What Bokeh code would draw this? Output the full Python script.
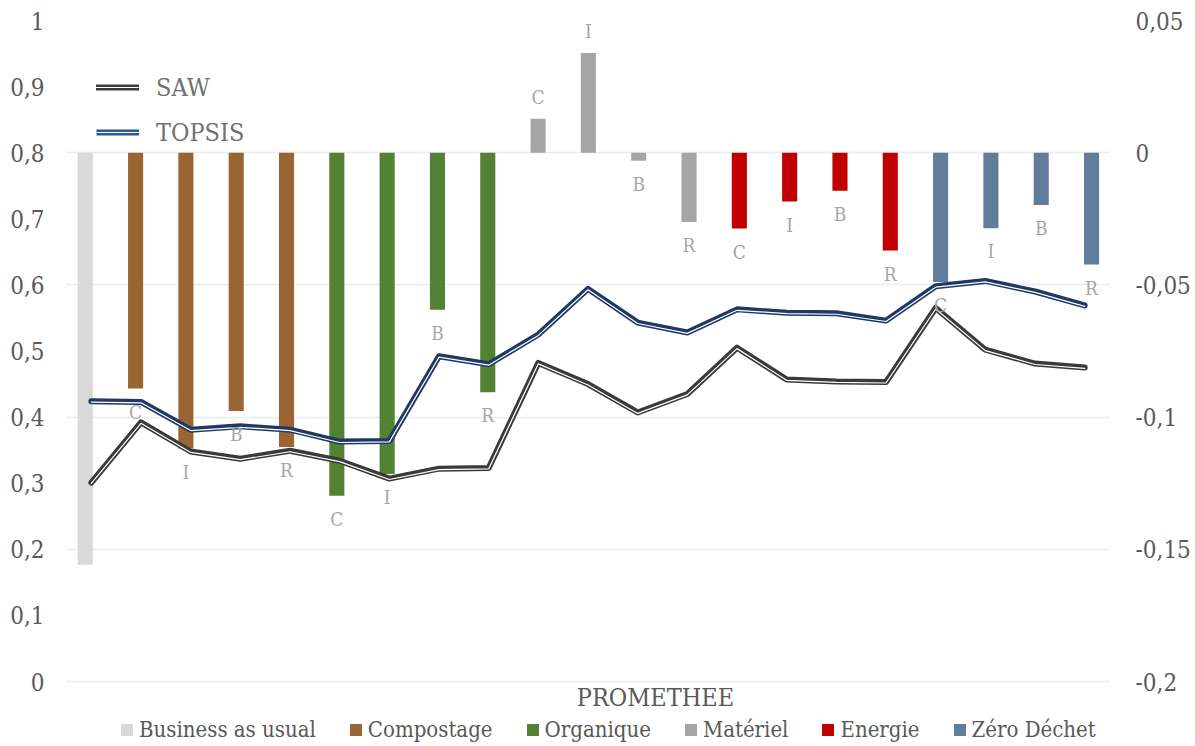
import numpy as np
from bokeh.plotting import figure
from bokeh.models import (Range1d, LinearAxis, FixedTicker, ColumnDataSource,
                          Legend, LegendItem, LabelSet, Label, Grid)
from bokeh.core.properties import value
from bokeh.embed import file_html
from bokeh.resources import INLINE

# ---------------- data ----------------
groups = ["Business as usual", "Compostage", "Organique", "Matériel", "Energie", "Zéro Déchet"]
group_colors = ["#d9d9d9", "#996633", "#548235", "#a5a5a5", "#c00000", "#627c9c"]
scenario_group = [0, 1, 1, 1, 1, 2, 2, 2, 2, 3, 3, 3, 3, 4, 4, 4, 4, 5, 5, 5, 5]
scenario_letter = ["", "C", "I", "B", "R", "C", "I", "B", "R", "C", "I", "B", "R",
                   "C", "I", "B", "R", "C", "I", "B", "R"]
promethee = [-0.1558, -0.0892, -0.1119, -0.0977, -0.1113, -0.1297, -0.1215, -0.0594, -0.0906,
             0.0128, 0.0377, -0.0030, -0.0262, -0.0287, -0.0185, -0.0144, -0.0370,
             -0.0489, -0.0286, -0.0198, -0.0423]
saw = [0.301, 0.392, 0.348, 0.337, 0.349, 0.334, 0.307, 0.322, 0.323, 0.482, 0.450, 0.407,
       0.435, 0.505, 0.457, 0.454, 0.453, 0.565, 0.502, 0.481, 0.475]
topsis = [0.424, 0.423, 0.381, 0.386, 0.381, 0.363, 0.364, 0.492, 0.480, 0.525, 0.594, 0.543,
          0.528, 0.563, 0.558, 0.557, 0.546, 0.598, 0.606, 0.590, 0.569]
left_ticks = [0, 0.1, 0.2, 0.3, 0.4, 0.5, 0.6, 0.7, 0.8, 0.9, 1]
left_tick_labels = ["0", "0,1", "0,2", "0,3", "0,4", "0,5", "0,6", "0,7", "0,8", "0,9", "1"]
right_ticks = [-0.2, -0.15, -0.1, -0.05, 0, 0.05]
right_tick_labels = ["-0,2", "-0,15", "-0,1", "-0,05", "0", "0,05"]
x_title = "PROMETHEE"

FONT = "'DejaVu Serif Condensed', 'DejaVu Serif', serif"
TXT = "#595959"

# ---------------- layout (pixels) ----------------
W, H = 1193, 742
B_LEFT, B_RIGHT, B_TOP = 66, 83, 20
PX_PER_UNIT = 661.0            # left axis: 0..1 spans 661 px
EXTRA = 61.0                    # room below the 0 line (legend / title) inside the frame
left_start = -EXTRA / PX_PER_UNIT
right_start = -0.2 + 0.25 * left_start

idx = list(range(len(promethee)))

p = figure(width=W, height=H, x_range=Range1d(-0.5, 20.5), y_range=Range1d(left_start, 1),
           output_backend="svg", toolbar_location=None, x_axis_location=None,
           min_border_left=B_LEFT, min_border_right=B_RIGHT, min_border_top=B_TOP,
           min_border_bottom=0)
p.outline_line_color = None
p.background_fill_color = "white"
p.extra_x_ranges = {"bars": Range1d(-0.373, 20.357)}
p.extra_y_ranges = {"right": Range1d(right_start, 0.05)}

# axes
ya = p.yaxis[0]
ya.ticker = FixedTicker(ticks=left_ticks)
ya.major_label_overrides = {t: l for t, l in zip(left_ticks, left_tick_labels)}
right_axis = LinearAxis(y_range_name="right", ticker=FixedTicker(ticks=right_ticks),
                        major_label_overrides={t: l for t, l in zip(right_ticks, right_tick_labels)})
p.add_layout(right_axis, "right")
for ax in (ya, right_axis):
    ax.axis_line_color = None
    ax.major_tick_line_color = None
    ax.minor_tick_line_color = None
    ax.major_tick_in = 0
    ax.major_tick_out = 0
    ax.major_label_text_font = FONT
    ax.major_label_text_font_size = "24px"
    ax.major_label_text_color = TXT
ya.major_label_standoff = 22
right_axis.major_label_standoff = 26

p.xgrid.visible = False
p.ygrid.visible = False
p.add_layout(Grid(dimension=1, ticker=right_axis.ticker, y_range_name="right",
                  grid_line_color="#ececec", grid_line_width=1.5))

# bars
src = ColumnDataSource(dict(
    x=idx, top=promethee,
    color=[group_colors[g] for g in scenario_group],
    letter=scenario_letter,
    yoff=[22 if v > 0 else -23 for v in promethee],
))
bars = p.vbar(x="x", top="top", bottom=0, width=0.3, fill_color="color", line_color=None,
              source=src, x_range_name="bars", y_range_name="right")

labels = LabelSet(x="x", y="top", text="letter", y_offset="yoff", source=src,
                  x_range_name="bars", y_range_name="right",
                  text_align="center", text_baseline="middle",
                  text_color="#a6a6a6", text_font_size="19px", text_font=value(FONT))
p.add_layout(labels)

# lines (double-line style)
def double_line(vals, color):
    dark = p.line(x=idx, y=vals, line_color=color, line_width=6,
                  line_cap="round", line_join="round")
    white = p.line(x=idx, y=[v - 0.0014 for v in vals], line_color="white", line_width=1.2,
                   line_cap="round", line_join="round")
    return [dark, white]

saw_r = double_line(saw, "#3a3a3a")
top_r = double_line(topsis, "#1f3864")

# legend swatch for TOPSIS (drawn in a lighter blue in the legend)
nan = np.array([np.nan])
topsis_sw = [p.line(x=nan, y=nan, line_color="#2f5597", line_width=6),
             p.line(x=nan, y=nan, line_color="white", line_width=1.2)]

line_legend = Legend(items=[LegendItem(label="SAW", renderers=saw_r),
                            LegendItem(label="TOPSIS", renderers=topsis_sw)],
                     location=(30, 595), orientation="vertical",
                     glyph_width=43, glyph_height=30, label_height=30, spacing=15,
                     label_standoff=17, padding=0, margin=0,
                     border_line_color=None, background_fill_alpha=0,
                     label_text_font=FONT, label_text_font_size="25px",
                     label_text_color="#707070")
p.add_layout(line_legend)

bar_items = []
for gi, name in enumerate(groups):
    first = scenario_group.index(gi)
    bar_items.append(LegendItem(label=name, renderers=[bars], index=first))
bar_legend = Legend(items=bar_items, location=(53, 0), orientation="horizontal",
                    glyph_width=15, glyph_height=15, label_height=20, spacing=32,
                    label_standoff=5, padding=0, margin=0,
                    border_line_color=None, background_fill_alpha=0,
                    label_text_font=FONT, label_text_font_size="22px",
                    label_text_color=TXT)
p.add_layout(bar_legend)

p.add_layout(Label(x=589, y=45, x_units="screen", y_units="screen", text=x_title,
                   text_align="center", text_baseline="middle",
                   text_font=FONT, text_font_size="25px", text_color=TXT))

open("out.html", "w").write(file_html(p, INLINE))
